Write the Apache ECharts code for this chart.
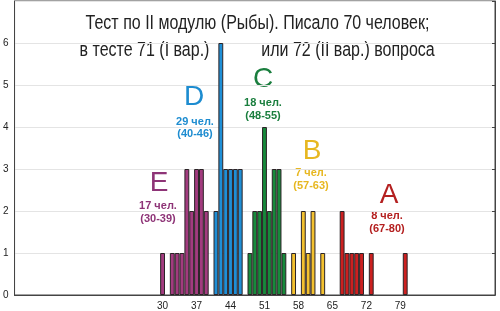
<!DOCTYPE html>
<html><head><meta charset="utf-8">
<script src="https://cdn.jsdelivr.net/npm/echarts@6/dist/echarts.min.js"></script>
<style>html,body{margin:0;padding:0;background:#fff}#c{width:500px;height:311px}</style>
</head><body><div id="c"></div>
<script>
// x categories: scores 0..98
const xMin = 0, xMax = 98;
const xTickLabels = [30, 37, 44, 51, 58, 65, 72, 79];
const yTickLabels = [0, 1, 2, 3, 4, 5, 6];

const scoresE = [30, 32, 33, 34, 35, 36, 37, 38, 39];
const countsE = [1, 1, 1, 1, 3, 2, 3, 3, 2];
const scoresD = [41, 42, 43, 44, 45, 46];
const countsD = [2, 6, 3, 3, 3, 3];
const scoresC = [48, 49, 50, 51, 52, 53, 54, 55];
const countsC = [1, 2, 2, 4, 2, 3, 3, 1];
const scoresB = [57, 59, 60, 61, 63];
const countsB = [1, 2, 1, 2, 1];
const scoresA = [67, 68, 69, 70, 71, 73, 80];
const countsA = [2, 1, 1, 1, 1, 1, 1];

const groupLetters = ['E', 'D', 'C', 'B', 'A'];
const groupPeople = ['17 чел.', '29 чел.', '18 чел.', '7 чел.', '8 чел.'];
const groupRanges = ['(30-39)', '(40-46)', '(48-55)', '(57-63)', '(67-80)'];
const titleLine1 = 'Тест по II модулю (Рыбы). Писало 70 человек;';
const titleLine2a = 'в тесте 71 (I вар.)';
const titleLine2b = 'или 72 (II вар.) вопроса';

// styling (not data)
const barColors = ['#a23b7f', '#1f8fd6', '#178a3b', '#f3c12f', '#cc2020'];
const textColors = ['#8e3477', '#1d8cd0', '#1a7e3e', '#e7b720', '#b42020'];
const letterPos = [[159, 183], [194, 97], [263, 79], [312, 151], [389, 195]];
const subPos = [[158, 206, 219], [195, 122, 134], [263, 103, 116], [311, 173, 186], [387, 216, 229]];

const categories = [];
for (let v = xMin; v <= xMax; v++) categories.push(String(v));

const groups = [[scoresE, countsE], [scoresD, countsD], [scoresC, countsC], [scoresB, countsB], [scoresA, countsA]];
const barData = [];
groups.forEach((g, i) => {
  g[0].forEach((s, j) => {
    barData.push({ value: [String(s), g[1][j]], itemStyle: { color: barColors[i] } });
  });
});

const graphic = [];
const titleFont = "'Liberation Sans', Arial, sans-serif";
const titleScale = 0.8;
[[titleLine1, 257.5, 23], [titleLine2a, 144.5, 50], [titleLine2b, 348, 50]].forEach(t => {
  graphic.push({ type: 'text', x: t[1], y: t[2], scaleX: titleScale, style: { text: t[0], fill: '#222', fontSize: 20, fontFamily: titleFont, align: 'center', verticalAlign: 'middle' } });
});
groupLetters.forEach((L, i) => {
  graphic.push({ type: 'text', x: letterPos[i][0], y: letterPos[i][1], style: { text: L, fill: textColors[i], fontSize: 28, fontFamily: 'Liberation Sans, Arial, sans-serif', align: 'center', verticalAlign: 'middle' } });
  graphic.push({ type: 'text', x: subPos[i][0], y: subPos[i][1], style: { text: groupPeople[i], fill: textColors[i], fontSize: 11, fontWeight: 'bold', fontFamily: 'Liberation Sans, Arial, sans-serif', align: 'center', verticalAlign: 'middle' } });
  graphic.push({ type: 'text', x: subPos[i][0], y: subPos[i][2], style: { text: groupRanges[i], fill: textColors[i], fontSize: 11, fontWeight: 'bold', fontFamily: 'Liberation Sans, Arial, sans-serif', align: 'center', verticalAlign: 'middle' } });
});

const chart = echarts.init(document.getElementById('c'), null, { renderer: 'canvas' });
chart.setOption({
  animation: false,
  backgroundColor: '#fff',
  grid: { left: 11, right: 5, top: 1, bottom: 15, show: true, borderColor: '#444', borderWidth: 1 },
  xAxis: [{
    type: 'category', data: categories, boundaryGap: true,
    axisLine: { lineStyle: { color: '#444' } },
    axisTick: { inside: true, length: 3, interval: (i) => i % 4 === 3, lineStyle: { color: '#444' } },
    axisLabel: { interval: (i, v) => xTickLabels.includes(Number(v)), color: '#222', fontSize: 10, margin: 6, fontFamily: 'Liberation Sans, Arial, sans-serif' },
    splitLine: { show: false }
  }, {
    type: 'category', data: categories, position: 'top', boundaryGap: true,
    axisLine: { lineStyle: { color: '#444' } },
    axisTick: { inside: true, length: 3, interval: (i) => i % 4 === 3, lineStyle: { color: '#444' } },
    axisLabel: { show: false }, splitLine: { show: false }
  }],
  yAxis: [{
    type: 'value', min: 0, max: 7, interval: 1,
    axisLine: { show: true, lineStyle: { color: '#444' } },
    axisTick: { show: false },
    axisLabel: { color: '#222', fontSize: 10, margin: 6, fontFamily: 'Liberation Sans, Arial, sans-serif',
      formatter: (v) => yTickLabels.includes(v) ? String(v) : '' },
    splitLine: { show: true, lineStyle: { color: '#e4e4e4', width: 1 } }
  }, {
    type: 'value', min: 0, max: 7, interval: 1, position: 'right',
    axisLine: { show: true, lineStyle: { color: '#444' } },
    axisTick: { show: true, inside: true, length: 3, lineStyle: { color: '#444' } },
    axisLabel: { show: false }, splitLine: { show: false }
  }],
  series: [{
    type: 'bar',
    data: barData,
    barWidth: '100%',
    barCategoryGap: '0%',
    itemStyle: { borderColor: '#2b2326', borderWidth: 1 },
    silent: true
  }],
  graphic: graphic
});
</script></body></html>
